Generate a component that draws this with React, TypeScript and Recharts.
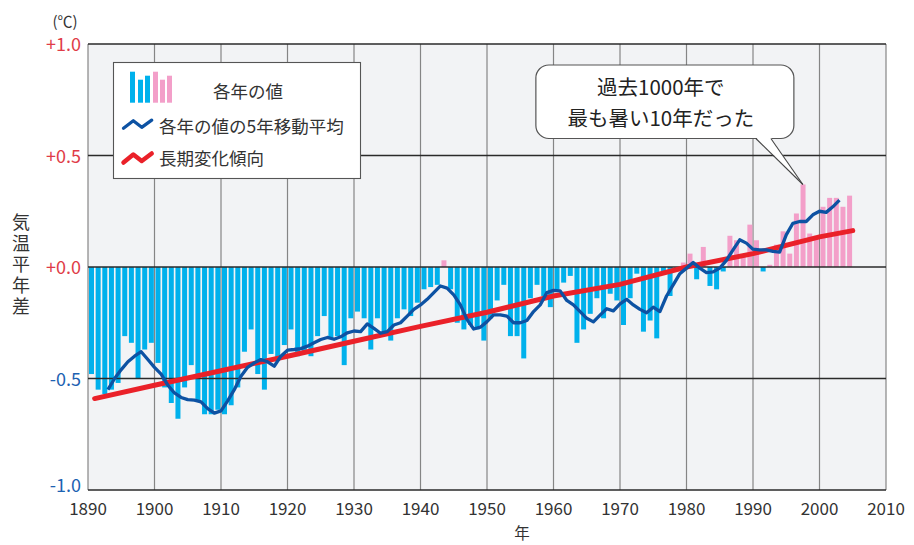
import React from 'react'
import {
  ComposedChart,
  Bar,
  Cell,
  Line,
  XAxis,
  YAxis,
  CartesianGrid,
  ReferenceLine,
  ReferenceDot,
} from 'recharts'

const FONT = '"Noto Sans CJK JP", "Noto Sans", sans-serif'
const BLUE_BAR = '#00b1ec'
const PINK_BAR = '#f39fc9'
const MA_COLOR = '#0d52a3'
const TREND_COLOR = '#ea2129'
const RED_TEXT = '#e03c48'
const BLUE_TEXT = '#1d62b2'

// annual anomaly (°C), 1891..2005
const firstYear = 1891
const anomalies = [
  -0.48, -0.55, -0.57, -0.55, -0.52, -0.31, -0.34, -0.5, -0.37, // 1891-1899
  -0.34, -0.43, -0.54, -0.61, -0.68, -0.54, -0.44, -0.6, -0.66, -0.66, // 1900-1909
  -0.64, -0.66, -0.62, -0.54, -0.38, -0.28, -0.48, -0.55, -0.39, -0.42, // 1910-1919
  -0.35, -0.28, -0.4, -0.39, -0.4, -0.31, -0.22, -0.32, -0.31, -0.44, // 1920-1929
  -0.23, -0.2, -0.23, -0.37, -0.23, -0.29, -0.33, -0.23, -0.19, -0.22, // 1930-1939
  -0.16, -0.1, -0.09, -0.08, 0.03, -0.1, -0.25, -0.28, -0.26, -0.28, // 1940-1949
  -0.33, -0.23, -0.15, -0.08, -0.31, -0.31, -0.41, -0.14, -0.08, -0.13, // 1950-1959
  -0.18, -0.1, -0.07, -0.04, -0.34, -0.28, -0.21, -0.14, -0.23, -0.12, // 1960-1969
  -0.15, -0.26, -0.14, -0.03, -0.29, -0.24, -0.32, -0.02, -0.13, -0.01, // 1970-1979
  0.02, 0.06, -0.055, 0.09, -0.085, -0.1, -0.02, 0.14, 0.12, 0.05, // 1980-1989
  0.19, 0.12, -0.02, 0.01, 0.1, 0.16, 0.06, 0.24, 0.37, 0.15, // 1990-1999
  0.14, 0.27, 0.31, 0.31, 0.27, 0.32, // 2000-2005
]
const years = anomalies.map((_, i) => firstYear + i)

// 5-year moving average, 1893..2003
const maFirstYear = 1893
const movingAverage = [
  -0.55, -0.5, -0.46, -0.425, -0.4, -0.38, -0.415, // 1893-1899
  -0.45, -0.48, -0.53, -0.565, -0.585, -0.595, -0.597, -0.605, -0.635, -0.655, // 1900-1909
  -0.645, -0.6, -0.55, -0.49, -0.45, -0.43, -0.415, -0.425, -0.445, -0.4, // 1910-1919
  -0.373, -0.37, -0.366, -0.355, -0.34, -0.325, -0.316, -0.324, -0.313, -0.295, // 1920-1929
  -0.287, -0.29, -0.255, -0.275, -0.297, -0.29, -0.26, -0.25, -0.22, -0.19, // 1930-1939
  -0.17, -0.145, -0.115, -0.085, -0.095, -0.125, -0.17, -0.236, -0.278, -0.27, // 1940-1949
  -0.245, -0.215, -0.215, -0.22, -0.25, -0.25, -0.24, -0.2, -0.17, -0.115, // 1950-1959
  -0.105, -0.107, -0.15, -0.17, -0.2, -0.23, -0.246, -0.216, -0.187, -0.197, // 1960-1969
  -0.165, -0.145, -0.17, -0.19, -0.205, -0.18, -0.2, -0.13, -0.08, -0.03, // 1970-1979
  -0.005, 0.02, -0.005, -0.025, -0.022, -0.005, 0.03, 0.077, 0.122, 0.107, // 1980-1989
  0.08, 0.077, 0.077, 0.07, 0.067, 0.144, 0.196, 0.204, 0.204, 0.234, // 1990-1999
  0.25, 0.245, 0.27, 0.3, // 2000-2003
]

// long-term trend
const trendYears = [1891, 1900, 1910, 1920, 1930, 1940, 1950, 1960, 1970, 1980, 1990, 2000, 2005]
const trendValues = [-0.59, -0.53, -0.465, -0.4, -0.333, -0.266, -0.203, -0.13, -0.078, 0.0, 0.06, 0.135, 0.163]

const xTicks = [1890, 1900, 1910, 1920, 1930, 1940, 1950, 1960, 1970, 1980, 1990, 2000, 2010]
const yTicks = [-1, -0.5, 0, 0.5, 1]
const yTickLabels = ['-1.0', '-0.5', '+0.0', '+0.5', '+1.0']

const barData = years.map((year, i) => ({ year, value: anomalies[i] }))
const maData = movingAverage.map((ma, i) => ({ year: maFirstYear + i, ma }))
const trendData = trendYears.map((year, i) => ({ year, trend: trendValues[i] }))

const recordYear = 1998
const recordValue = anomalies[years.indexOf(recordYear)]

const YTick = (props: any) => {
  const v = props.payload.value
  const label = yTickLabels[yTicks.indexOf(v)]
  // bottom label sits a little higher, clear of the year labels
  const shift = v === -1 ? -4 : 1
  return (
    <text
      x={props.x}
      y={props.y + shift}
      dy="0.36em"
      textAnchor="end"
      fontSize={18}
      fontFamily={FONT}
      fill={v >= 0 ? RED_TEXT : BLUE_TEXT}
    >
      {label}
    </text>
  )
}

// speech bubble pointing at the record bar
const Callout = (props: any) => {
  const { cx, cy } = props
  if (cx == null || cy == null) return null
  const bx = cx - 267
  const by = cy - 119.5
  const baseY = by + 73.5
  return (
    <g>
      <rect x={bx} y={by} width={258} height={73.5} rx={13} fill="#fff" stroke="#555" strokeWidth={1.2} />
      <polygon points={`${cx - 47},${baseY - 1} ${cx},${cy} ${cx - 32},${baseY - 1}`} fill="#fff" />
      <line x1={cx - 47} y1={baseY} x2={cx} y2={cy} stroke="#444" strokeWidth={1.1} />
      <line x1={cx - 32} y1={baseY} x2={cx} y2={cy} stroke="#444" strokeWidth={1.1} />
      <text x={cx - 142} y={by + 21.5} textAnchor="middle" dominantBaseline="central" fontSize={20.5} fontFamily={FONT} fill="#222">
        過去1000年で
      </text>
      <text x={cx - 142} y={by + 52} textAnchor="middle" dominantBaseline="central" fontSize={20.5} fontFamily={FONT} fill="#222">
        最も暑い10年だった
      </text>
    </g>
  )
}

const legendBars = [
  { x: 130, h: 31, c: BLUE_BAR },
  { x: 138, h: 23, c: BLUE_BAR },
  { x: 145, h: 27, c: BLUE_BAR },
  { x: 153, h: 31, c: PINK_BAR },
  { x: 160, h: 23, c: PINK_BAR },
  { x: 167, h: 27, c: PINK_BAR },
]

const Overlay = () => (
  <svg
    width={914}
    height={545}
    style={{ position: 'absolute', left: 0, top: 0, pointerEvents: 'none' }}
    fontFamily={FONT}
  >
    <text x={65} y={20} textAnchor="middle" dominantBaseline="central" fontSize={15} fill="#333">
      (℃)
    </text>
    <text
      x={21}
      y={213}
      fontSize={18}
      fill="#333"
      letterSpacing={3}
      style={{ writingMode: 'vertical-rl', textOrientation: 'upright' } as any}
    >
      気温平年差
    </text>
    <text x={522} y={532} textAnchor="middle" dominantBaseline="central" fontSize={15.5} fill="#333">
      年
    </text>

    <g>
      <rect x={113.5} y={62.5} width={247} height={116} fill="#fff" stroke="#555" strokeWidth={1.1} />
      {legendBars.map((b, i) => (
        <rect key={i} x={b.x} y={102.7 - b.h} width={5} height={b.h} fill={b.c} />
      ))}
      <text x={213} y={90.5} dominantBaseline="central" fontSize={17.5} fill="#333">
        各年の値
      </text>
      <path
        d="M123.5 128.3 L133.3 120.8 L141.7 127.3 L151.7 120.2"
        fill="none"
        stroke={MA_COLOR}
        strokeWidth={3.3}
        strokeLinecap="round"
        strokeLinejoin="round"
      />
      <text x={159} y={125} dominantBaseline="central" fontSize={17.5} fill="#333">
        各年の値の5年移動平均
      </text>
      <path
        d="M123.5 162.5 L133.3 154.5 L141.7 161 L151.7 153.5"
        fill="none"
        stroke={TREND_COLOR}
        strokeWidth={4.5}
        strokeLinecap="round"
        strokeLinejoin="round"
      />
      <text x={159} y={157} dominantBaseline="central" fontSize={17.5} fill="#333">
        長期変化傾向
      </text>
    </g>
  </svg>
)

export default function App() {
  return (
    <div style={{ position: 'absolute', left: 0, top: 0, width: 914, height: 545, background: '#fff', fontFamily: FONT }}>
      <ComposedChart width={914} height={545} data={barData} margin={{ top: 44, right: 28, bottom: 25, left: 0 }}>
        <CartesianGrid fill="#f2f3f5" horizontal={false} stroke="#858585" strokeWidth={1.2} />
        <XAxis
          dataKey="year"
          type="number"
          domain={[1890, 2010]}
          allowDataOverflow
          ticks={xTicks}
          interval={0}
          axisLine={false}
          tickLine={false}
          tickSize={0}
          tickMargin={13}
          height={30}
          tick={{ fontSize: 17, fill: '#333', fontFamily: FONT }}
        />
        <XAxis xAxisId="bars" dataKey="year" type="number" domain={[1890.5, 2010.5]} allowDataOverflow hide />
        <YAxis
          type="number"
          domain={[-1, 1]}
          allowDataOverflow
          ticks={yTicks}
          interval={0}
          width={88}
          axisLine={false}
          tickLine={false}
          tickSize={0}
          tickMargin={7}
          tick={<YTick />}
        />
        <Bar dataKey="value" xAxisId="bars" barSize={5} isAnimationActive={false}>
          {barData.map((d, i) => (
            <Cell key={i} fill={d.value >= 0 ? PINK_BAR : BLUE_BAR} />
          ))}
        </Bar>
        {yTicks.map((t) => (
          <ReferenceLine key={t} y={t} stroke="#2a2a2a" strokeWidth={1.3} />
        ))}
        <Line
          data={trendData}
          dataKey="trend"
          type="linear"
          stroke={TREND_COLOR}
          strokeWidth={5}
          strokeLinecap="round"
          dot={false}
          activeDot={false}
          isAnimationActive={false}
        />
        <Line
          data={maData}
          dataKey="ma"
          type="linear"
          stroke={MA_COLOR}
          strokeWidth={3.3}
          strokeLinejoin="round"
          dot={false}
          activeDot={false}
          isAnimationActive={false}
        />
        <ReferenceDot xAxisId="bars" x={recordYear} y={recordValue} r={0} shape={<Callout />} />
      </ComposedChart>
      <Overlay />
    </div>
  )
}
